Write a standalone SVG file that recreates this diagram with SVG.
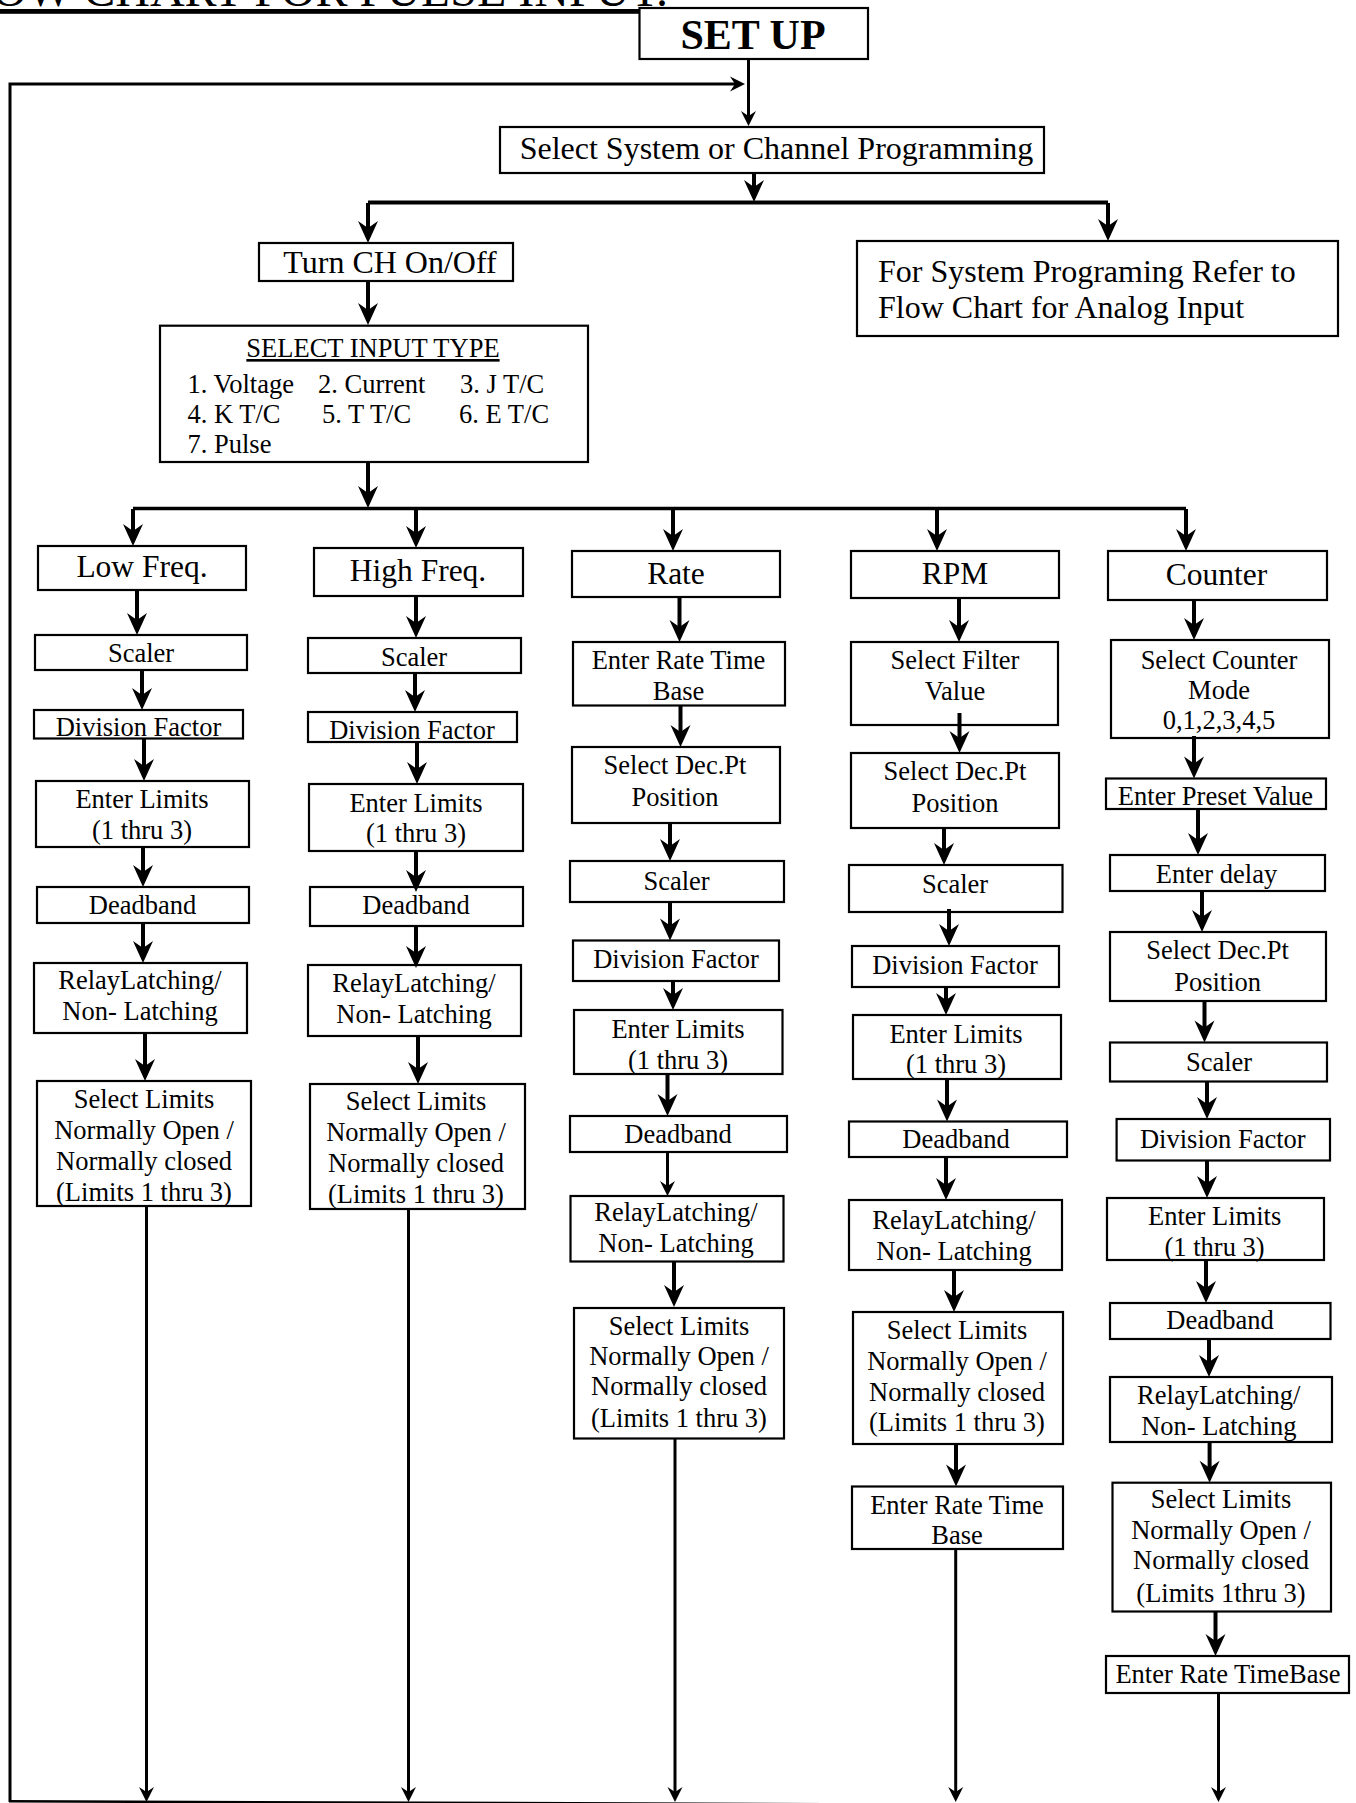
<svg xmlns="http://www.w3.org/2000/svg" width="1356" height="1803" viewBox="0 0 1356 1803">
<style>
.box{fill:#fff;stroke:#000;stroke-width:2.2}
text{font-family:"Liberation Serif","Times New Roman",serif;fill:#000}
.t{font-size:26.5px;text-anchor:middle}
.h{font-size:31.5px;text-anchor:middle}
.top{font-size:32px}
.c{fill:none;stroke:#000;stroke-width:4}
.cs{fill:none;stroke:#000;stroke-width:3}
.bar{fill:none;stroke:#000;stroke-width:3.5}
</style>
<defs>
<marker id="ah" markerUnits="userSpaceOnUse" viewBox="-14 -12 26 24" markerWidth="26" markerHeight="24" refX="0" refY="0" orient="auto" overflow="visible">
<path d="M10,0 L-12,-10 L-5,0 L-12,10 Z" fill="#000"/>
</marker>
<marker id="as" markerUnits="userSpaceOnUse" viewBox="-10 -9 18 18" markerWidth="18" markerHeight="18" refX="0" refY="0" orient="auto" overflow="visible">
<path d="M7,0 L-8,-7.5 L-3,0 L-8,7.5 Z" fill="#000"/>
</marker>
</defs>
<rect width="1356" height="1803" fill="#fff"/>

<g id="title">
<text x="668" y="6" font-size="48" text-anchor="end" text-decoration="underline">FLOW CHART FOR PULSE INPUT.</text>
</g>

<g id="setup"><rect class="box" x="639.5" y="8" width="228.5" height="51" stroke-width="2.5"/><text x="753" y="49" font-size="42" font-weight="bold" text-anchor="middle">SET UP</text></g>
<g id="select-system"><rect class="box" x="500" y="127" width="544" height="46"/><text class="top" x="776.5" y="159" text-anchor="middle">Select System or Channel Programming</text></g>
<g id="turn-ch"><rect class="box" x="259" y="243" width="254" height="38"/><text class="top" x="390" y="273" text-anchor="middle">Turn CH On/Off</text></g>
<g id="system-ref"><rect class="box" x="857" y="241" width="481" height="95"/><text class="top" x="878" y="282">For System Programing Refer to</text><text class="top" x="878" y="318">Flow Chart for Analog Input</text></g>
<g id="input-type"><rect class="box" x="160" y="325.7" width="428" height="136.3"/>
<text class="t" x="373" y="357" text-decoration="underline">SELECT INPUT TYPE</text>
<text font-size="26.5"><tspan x="187.5" y="392.7">1. Voltage</tspan><tspan x="318" y="392.7">2. Current</tspan><tspan x="460" y="392.7">3. J T/C</tspan></text>
<text font-size="26.5"><tspan x="187.5" y="422.7">4. K T/C</tspan><tspan x="322" y="422.7">5. T T/C</tspan><tspan x="459" y="422.7">6. E T/C</tspan></text>
<text font-size="26.5"><tspan x="187.5" y="452.7">7. Pulse</tspan></text>
</g>

<g id="low-freq">
<g id="lf1"><rect class="box" x="38" y="546" width="208" height="44"/><text class="h" x="142" y="577">Low Freq.</text></g>
<g id="lf2"><rect class="box" x="35" y="635" width="212" height="35"/><text class="t" x="141" y="662">Scaler</text></g>
<g id="lf3"><rect class="box" x="34" y="710" width="209" height="28.5"/><text class="t" x="138.5" y="736">Division Factor</text></g>
<g id="lf4"><rect class="box" x="36" y="781" width="213" height="66"/><text class="t"><tspan x="142" y="808">Enter Limits</tspan><tspan x="142" y="839">(1 thru 3)</tspan></text></g>
<g id="lf5"><rect class="box" x="37" y="887" width="212" height="36"/><text class="t" x="142.5" y="914">Deadband</text></g>
<g id="lf6"><rect class="box" x="34" y="963" width="213" height="70"/><text class="t"><tspan x="140" y="989">RelayLatching/</tspan><tspan x="140" y="1020">Non- Latching</tspan></text></g>
<g id="lf7"><rect class="box" x="37" y="1081" width="214" height="125"/><text class="t"><tspan x="144" y="1108">Select Limits</tspan><tspan x="144" y="1139">Normally Open /</tspan><tspan x="144" y="1170">Normally closed</tspan><tspan x="144" y="1201">(Limits 1 thru 3)</tspan></text></g>
</g>

<g id="high-freq">
<g id="hf1"><rect class="box" x="314" y="548" width="209" height="48"/><text class="h" x="418" y="581">High Freq.</text></g>
<g id="hf2"><rect class="box" x="308" y="638" width="213" height="35"/><text class="t" x="414" y="666">Scaler</text></g>
<g id="hf3"><rect class="box" x="308" y="712" width="209" height="30"/><text class="t" x="412" y="739">Division Factor</text></g>
<g id="hf4"><rect class="box" x="309" y="784" width="214" height="67"/><text class="t"><tspan x="416" y="811.5">Enter Limits</tspan><tspan x="416" y="841.5">(1 thru 3)</tspan></text></g>
<g id="hf5"><rect class="box" x="310" y="887" width="213" height="39"/><text class="t" x="416" y="914">Deadband</text></g>
<g id="hf6"><rect class="box" x="308" y="965" width="213" height="71"/><text class="t"><tspan x="414" y="992">RelayLatching/</tspan><tspan x="414" y="1022.7">Non- Latching</tspan></text></g>
<g id="hf7"><rect class="box" x="310" y="1084" width="215" height="125"/><text class="t"><tspan x="416" y="1110">Select Limits</tspan><tspan x="416" y="1141">Normally Open /</tspan><tspan x="416" y="1172">Normally closed</tspan><tspan x="416" y="1202.7">(Limits 1 thru 3)</tspan></text></g>
</g>

<g id="rate">
<g id="r1"><rect class="box" x="572" y="551" width="208" height="46"/><text class="h" x="676" y="584">Rate</text></g>
<g id="r2"><rect class="box" x="573" y="642" width="212" height="63.5"/><text class="t"><tspan x="678.5" y="669">Enter Rate Time</tspan><tspan x="678.5" y="700.4">Base</tspan></text></g>
<g id="r3"><rect class="box" x="572" y="747" width="208" height="76"/><text class="t"><tspan x="675" y="774">Select Dec.Pt</tspan><tspan x="675" y="806">Position</tspan></text></g>
<g id="r4"><rect class="box" x="570" y="861" width="214" height="41"/><text class="t" x="676.5" y="889.6">Scaler</text></g>
<g id="r5"><rect class="box" x="573" y="940.5" width="206" height="40.5"/><text class="t" x="676" y="967.7">Division Factor</text></g>
<g id="r6"><rect class="box" x="574" y="1010" width="208.5" height="64"/><text class="t"><tspan x="678" y="1037.5">Enter Limits</tspan><tspan x="678" y="1068.7">(1 thru 3)</tspan></text></g>
<g id="r7"><rect class="box" x="570" y="1116" width="217" height="36"/><text class="t" x="678" y="1143">Deadband</text></g>
<g id="r8"><rect class="box" x="570.5" y="1196" width="213" height="65.5"/><text class="t"><tspan x="676" y="1221">RelayLatching/</tspan><tspan x="676" y="1252">Non- Latching</tspan></text></g>
<g id="r9"><rect class="box" x="574" y="1308" width="210" height="130.5"/><text class="t"><tspan x="679" y="1334.6">Select Limits</tspan><tspan x="679" y="1365">Normally Open /</tspan><tspan x="679" y="1395">Normally closed</tspan><tspan x="679" y="1427">(Limits 1 thru 3)</tspan></text></g>
</g>

<g id="rpm">
<g id="p1"><rect class="box" x="851" y="551" width="208" height="47"/><text class="h" x="955" y="584">RPM</text></g>
<g id="p2"><rect class="box" x="851" y="642" width="207" height="83"/><text class="t"><tspan x="955" y="669">Select Filter</tspan><tspan x="955" y="700">Value</tspan></text></g>
<g id="p3"><rect class="box" x="851" y="753" width="208" height="75"/><text class="t"><tspan x="955" y="780">Select Dec.Pt</tspan><tspan x="955" y="811.5">Position</tspan></text></g>
<g id="p4"><rect class="box" x="849" y="865" width="213.5" height="47"/><text class="t" x="955" y="893">Scaler</text></g>
<g id="p5"><rect class="box" x="852" y="946" width="207" height="41"/><text class="t" x="955" y="973.6">Division Factor</text></g>
<g id="p6"><rect class="box" x="853" y="1015" width="208" height="64"/><text class="t"><tspan x="956" y="1042.5">Enter Limits</tspan><tspan x="956" y="1073">(1 thru 3)</tspan></text></g>
<g id="p7"><rect class="box" x="849" y="1121.5" width="218" height="35.5"/><text class="t" x="956" y="1148">Deadband</text></g>
<g id="p8"><rect class="box" x="849" y="1200" width="213" height="70"/><text class="t"><tspan x="954" y="1229">RelayLatching/</tspan><tspan x="954" y="1260">Non- Latching</tspan></text></g>
<g id="p9"><rect class="box" x="853" y="1312" width="210" height="132"/><text class="t"><tspan x="957" y="1339">Select Limits</tspan><tspan x="957" y="1370">Normally Open /</tspan><tspan x="957" y="1401">Normally closed</tspan><tspan x="957" y="1431">(Limits 1 thru 3)</tspan></text></g>
<g id="p10"><rect class="box" x="852" y="1486.5" width="211" height="62.5"/><text class="t"><tspan x="957" y="1513.5">Enter Rate Time</tspan><tspan x="957" y="1543.5">Base</tspan></text></g>
</g>

<g id="counter">
<g id="c1"><rect class="box" x="1108" y="551" width="219" height="49"/><text class="h" x="1216.5" y="585">Counter</text></g>
<g id="c2"><rect class="box" x="1111" y="640" width="218" height="98"/><text class="t"><tspan x="1219" y="669">Select Counter</tspan><tspan x="1219" y="699">Mode</tspan><tspan x="1219" y="729">0,1,2,3,4,5</tspan></text></g>
<g id="c3"><rect class="box" x="1106" y="778.5" width="220" height="30.5"/><text class="t" x="1215.5" y="804.6">Enter Preset Value</text></g>
<g id="c4"><rect class="box" x="1110" y="855" width="215" height="36"/><text class="t" x="1216.5" y="882.7">Enter delay</text></g>
<g id="c5"><rect class="box" x="1110" y="932" width="216" height="69"/><text class="t"><tspan x="1217.6" y="959">Select Dec.Pt</tspan><tspan x="1217.6" y="990.6">Position</tspan></text></g>
<g id="c6"><rect class="box" x="1110" y="1042.5" width="217" height="39"/><text class="t" x="1219" y="1071">Scaler</text></g>
<g id="c7"><rect class="box" x="1116.6" y="1119" width="213.4" height="41.5"/><text class="t" x="1222.8" y="1147.6">Division Factor</text></g>
<g id="c8"><rect class="box" x="1107" y="1198" width="217" height="62"/><text class="t"><tspan x="1214.6" y="1225">Enter Limits</tspan><tspan x="1214.6" y="1256">(1 thru 3)</tspan></text></g>
<g id="c9"><rect class="box" x="1110" y="1303" width="220.5" height="36"/><text class="t" x="1220" y="1329">Deadband</text></g>
<g id="c10"><rect class="box" x="1110" y="1377" width="222" height="65"/><text class="t"><tspan x="1218.8" y="1404">RelayLatching/</tspan><tspan x="1218.8" y="1434.6">Non- Latching</tspan></text></g>
<g id="c11"><rect class="box" x="1112.5" y="1482.7" width="218.5" height="128.8"/><text class="t"><tspan x="1221" y="1507.7">Select Limits</tspan><tspan x="1221" y="1538.5">Normally Open /</tspan><tspan x="1221" y="1569">Normally closed</tspan><tspan x="1221" y="1602">(Limits 1thru 3)</tspan></text></g>
<g id="c12"><rect class="box" x="1106" y="1656" width="243" height="37"/><text class="t" x="1228" y="1682.7">Enter Rate TimeBase</text></g>
</g>

<g id="connectors">
<path class="cs" d="M748.5,59 V119" stroke-width="2.5" marker-end="url(#as)"/>
<path class="cs" d="M10,1802 V84 H738" marker-end="url(#as)"/>
<path d="M9,1801.3 L840,1804.3" stroke="#000" stroke-width="2.5"/>
<path class="c" d="M754,173 V192" marker-end="url(#ah)"/>
<path class="c" d="M368,202.5 H1108"/>
<path class="c" d="M368,203 V233" marker-end="url(#ah)"/>
<path class="c" d="M1108,203 V231" marker-end="url(#ah)"/>
<path class="c" d="M368,281 V315" marker-end="url(#ah)"/>
<path class="c" d="M368,462 V498" marker-end="url(#ah)"/>
<path class="bar" d="M133,508.5 H1186"/>
<path class="c" d="M133,509 V536" marker-end="url(#ah)"/>
<path class="c" d="M416,509 V538" marker-end="url(#ah)"/>
<path class="c" d="M673,509 V541" marker-end="url(#ah)"/>
<path class="c" d="M937,509 V541" marker-end="url(#ah)"/>
<path class="c" d="M1186,509 V541" marker-end="url(#ah)"/>

<path class="c" d="M137,590 V625" marker-end="url(#ah)"/>
<path class="c" d="M142,670 V700" marker-end="url(#ah)"/>
<path class="c" d="M144,738.5 V771" marker-end="url(#ah)"/>
<path class="c" d="M143,847 V877" marker-end="url(#ah)"/>
<path class="c" d="M143,923 V953" marker-end="url(#ah)"/>
<path class="c" d="M145,1033 V1071" marker-end="url(#ah)"/>
<path class="cs" d="M146.5,1206 V1795" marker-end="url(#as)"/>

<path class="c" d="M416,596 V628" marker-end="url(#ah)"/>
<path class="c" d="M415,673 V702" marker-end="url(#ah)"/>
<path class="c" d="M417,742 V774" marker-end="url(#ah)"/>
<path class="c" d="M416,851 V882" marker-end="url(#ah)"/>
<path class="c" d="M416,926 V958" marker-end="url(#ah)"/>
<path class="c" d="M418,1036 V1074" marker-end="url(#ah)"/>
<path class="cs" d="M408.5,1209 V1795" marker-end="url(#as)"/>

<path class="c" d="M679.5,597 V632" marker-end="url(#ah)"/>
<path class="c" d="M680.5,705.5 V737" marker-end="url(#ah)"/>
<path class="c" d="M670,823 V851" marker-end="url(#ah)"/>
<path class="c" d="M670,902 V930.5" marker-end="url(#ah)"/>
<path class="c" d="M673,981 V1000" marker-end="url(#ah)"/>
<path class="c" d="M667.5,1074 V1106" marker-end="url(#ah)"/>
<path class="cs" d="M667.5,1152 V1189" marker-end="url(#as)"/>
<path class="c" d="M674,1261.5 V1297" marker-end="url(#ah)"/>
<path class="cs" d="M675,1438.5 V1795" marker-end="url(#as)"/>

<path class="c" d="M959,598 V632" marker-end="url(#ah)"/>
<path class="c" d="M959.5,713 V743" marker-end="url(#ah)"/>
<path class="c" d="M944,828 V855" marker-end="url(#ah)"/>
<path class="c" d="M949,909 V936" marker-end="url(#ah)"/>
<path class="c" d="M946,987 V1005" marker-end="url(#ah)"/>
<path class="c" d="M947,1079 V1111.5" marker-end="url(#ah)"/>
<path class="c" d="M946,1157 V1190" marker-end="url(#ah)"/>
<path class="c" d="M954,1270 V1302" marker-end="url(#ah)"/>
<path class="c" d="M956,1444 V1476.5" marker-end="url(#ah)"/>
<path class="cs" d="M955.7,1549 V1795" marker-end="url(#as)"/>

<path class="c" d="M1194,600 V630" marker-end="url(#ah)"/>
<path class="c" d="M1194,736 V768.5" marker-end="url(#ah)"/>
<path class="c" d="M1198,809 V845" marker-end="url(#ah)"/>
<path class="c" d="M1202,891 V922" marker-end="url(#ah)"/>
<path class="c" d="M1204.5,1001 V1032.5" marker-end="url(#ah)"/>
<path class="c" d="M1207,1081.5 V1109" marker-end="url(#ah)"/>
<path class="c" d="M1207,1160.5 V1188" marker-end="url(#ah)"/>
<path class="c" d="M1206,1260 V1293" marker-end="url(#ah)"/>
<path class="c" d="M1209,1339 V1367" marker-end="url(#ah)"/>
<path class="c" d="M1209.6,1442 V1472.7" marker-end="url(#ah)"/>
<path class="c" d="M1215.5,1611.5 V1646" marker-end="url(#ah)"/>
<path class="cs" d="M1218.5,1693 V1795" marker-end="url(#as)"/>
</g>
</svg>
